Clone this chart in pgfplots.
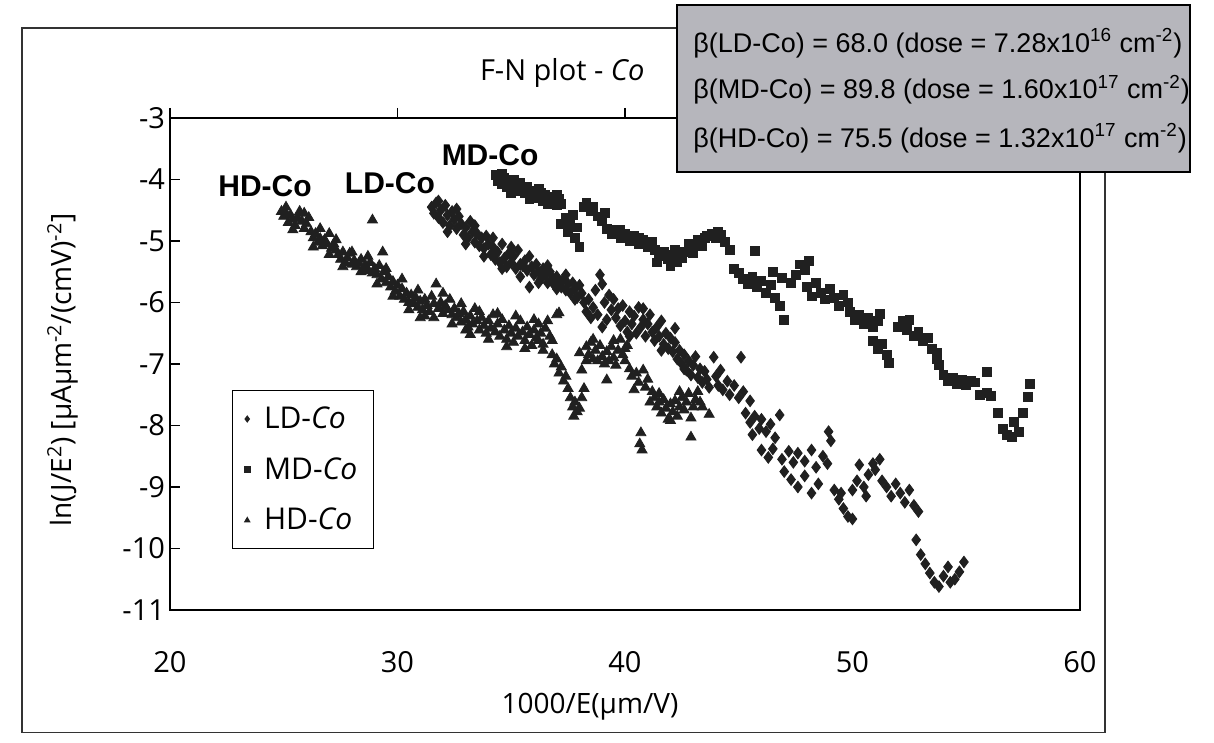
\documentclass[border=0pt]{standalone}
\usepackage{fontspec}
\setmainfont{Open Sans}
\newfontfamily\arialf{Liberation Sans}
\usepackage{pgfplots}
\pgfplotsset{compat=1.18}
\definecolor{markc}{HTML}{202020}
\definecolor{boxgray}{HTML}{B6B6BC}
\begin{document}
\begin{tikzpicture}
\begin{axis}[
  scale only axis, width=455pt, height=246pt,
  xmin=20, xmax=60, ymin=-11, ymax=-3,
  xtick={20,30,40,50,60}, ytick={-11,-10,-9,-8,-7,-6,-5,-4,-3},
  xtick pos=upper, xticklabel pos=lower, ytick pos=left,
  tick align=inside, major tick length=5pt,
  x tick style={yshift=5pt},
  xticklabel shift=17pt, yticklabel shift=-1pt,
  axis line style={line width=0.9pt},
  tick style={line width=0.8pt, black},
  /pgf/number format/assume math mode=true,
  ticklabel style={font=\fontsize{14.5}{17}\selectfont},
  clip=false,
  xlabel={1000/E(µm/V)},
  xlabel style={font=\fontsize{14}{16}\selectfont, at={(rel axis cs:0.4615,-0.197)}, anchor=center},
  ylabel={ln(J/E\textsuperscript{2}) [µAµm\textsuperscript{-2}/(cmV)\textsuperscript{-2}]},
  ylabel style={font=\fontsize{14}{16}\selectfont, at={(rel axis cs:-0.1176,0.488)}, anchor=center},
  title={F-N plot - \textit{Co}},
  title style={font=\fontsize{14.5}{17}\selectfont, at={(rel axis cs:0.431,1.067)}, anchor=center},
  legend style={at={(rel axis cs:0.068,0.447)}, anchor=north west, draw=black, line width=0.6pt,
    font=\fontsize{15}{17}\selectfont, row sep=9pt, inner xsep=6pt, inner ysep=6pt, cells={anchor=west},
    /tikz/every odd column/.append style={column sep=5pt}},
  legend image post style={mark size=1.4pt},
]
% LD-Co
\addplot[only marks, mark=diamond*, mark size=2.9pt, color=markc, fill=markc] coordinates {
(31.5,-4.45)(31.6,-4.55)(31.7,-4.38)(31.8,-4.62)(31.9,-4.50)(32.0,-4.70)(32.1,-4.42)(32.2,-4.58)(32.3,-4.75)(32.4,-4.52)(32.5,-4.65)(32.6,-4.80)(32.7,-4.60)
(32.8,-4.72)(32.9,-4.90)(33.0,-4.78)(33.1,-4.95)(33.2,-4.68)(33.3,-4.85)(33.4,-5.02)(33.5,-4.88)(33.6,-5.08)(33.7,-4.95)(33.8,-5.12)(33.9,-4.92)
(34.0,-5.05)(34.1,-5.22)(34.2,-5.10)(34.3,-5.30)(34.4,-5.18)(34.5,-5.35)(34.6,-5.05)(34.7,-5.28)(34.8,-5.42)(34.9,-5.20)(35.0,-5.35)(35.1,-5.25)(35.2,-5.45)(35.3,-5.15)(35.4,-5.38)
(35.5,-5.40)(35.6,-5.32)(35.7,-5.48)(35.8,-5.75)(35.9,-5.42)(36.0,-5.55)(36.1,-5.38)(36.2,-5.50)(36.3,-5.62)(36.4,-5.45)(36.5,-5.55)(36.6,-5.68)(36.7,-5.50)(36.8,-5.60)(36.9,-5.72)(37.0,-5.58)(37.1,-5.65)
(37.2,-5.75)(37.3,-5.62)(37.4,-5.80)(37.5,-5.70)(37.6,-5.85)(37.7,-5.68)(37.8,-5.78)(37.9,-5.92)(38.0,-5.72)(38.1,-5.85)(38.2,-6.00)
(38.3,-6.15)(38.4,-5.95)(38.5,-6.25)(38.6,-6.08)(38.7,-5.80)(38.8,-6.20)(38.9,-5.55)(39.0,-5.70)(39.1,-6.00)(39.2,-6.28)(39.3,-5.88)(39.4,-6.12)(39.5,-5.95)
(39.6,-6.25)(39.7,-6.10)(39.8,-6.38)(39.9,-6.05)(40.0,-6.30)(40.1,-6.48)(40.2,-6.15)(40.3,-6.35)(40.4,-6.22)(40.5,-6.50)(40.6,-6.08)(40.7,-6.40)(40.8,-6.28)(40.9,-6.55)(41.0,-6.35)(41.1,-6.20)(41.2,-6.48)(41.3,-6.62)(41.4,-6.40)(41.5,-6.55)(41.6,-6.30)(41.7,-6.68)(41.8,-6.50)(41.9,-6.75)(42.0,-6.58)
(42.1,-6.80)(42.2,-6.65)(42.3,-6.92)(42.4,-6.78)(42.5,-7.00)(42.6,-6.85)(42.7,-7.10)(42.8,-6.95)(42.9,-7.18)(43.0,-7.02)(43.1,-6.88)(43.2,-7.22)(43.3,-7.08)(43.4,-7.30)(43.5,-7.12)(43.6,-7.25)(43.7,-7.38)(43.9,-6.89)(44.0,-7.20)(44.1,-7.35)(44.2,-7.10)(45.1,-6.89)
(44.3,-7.42)(44.5,-7.28)(44.6,-7.50)(44.8,-7.35)(45.0,-7.55)(45.2,-7.45)(45.5,-7.60)
(45.3,-7.80)(45.5,-7.95)(45.7,-7.85)(45.9,-8.05)(46.0,-7.90)(46.2,-8.10)(46.4,-7.98)(46.6,-8.20)(46.8,-7.83)(45.6,-8.15)
(46.0,-8.40)(46.3,-8.52)(46.5,-8.38)(46.9,-8.55)(47.2,-8.42)(47.4,-8.60)(47.6,-8.45)(47.9,-8.58)(48.2,-8.40)(48.4,-8.68)(48.7,-8.50)(48.9,-8.62)(48.95,-8.10)(49.05,-8.25)
(47.0,-8.75)(47.3,-8.88)(47.6,-9.00)(47.9,-8.82)(48.2,-9.10)(48.5,-8.95)
(49.2,-9.05)(49.4,-9.20)(49.6,-9.35)(49.8,-9.48)(50.0,-9.52)(49.5,-9.10)
(50.0,-9.05)(50.2,-8.90)(50.3,-8.64)(50.5,-9.00)(50.7,-8.80)(50.9,-8.62)(51.0,-8.72)(51.2,-8.55)(51.3,-8.90)(50.6,-9.15)
(51.5,-9.00)(51.7,-9.15)(51.9,-8.95)(52.1,-9.10)(52.3,-9.25)(52.5,-9.05)(52.7,-9.30)(52.9,-9.40)
(52.8,-9.86)(53.0,-10.10)(53.2,-10.25)(53.4,-10.40)(53.6,-10.55)(53.8,-10.62)(54.0,-10.45)(54.2,-10.30)(54.3,-10.55)(54.5,-10.50)(54.7,-10.38)(54.9,-10.22)
(31.8,-4.35)(32.2,-4.85)(32.6,-4.48)(33.0,-5.05)(33.4,-4.75)(33.8,-5.25)(34.2,-4.95)(34.6,-5.45)(35.0,-5.10)(35.4,-5.58)(35.8,-5.25)(36.2,-5.68)(36.6,-5.40)(37.0,-5.78)(37.4,-5.55)(37.8,-5.95)(39.0,-6.40)(40.2,-6.55)(40.8,-6.10)(41.6,-6.78)(42.2,-6.42)(42.6,-7.08)
};
\addlegendentry{LD-\textit{Co}}
% MD-Co
\addplot[only marks, mark=square*, mark size=2.2pt, color=markc, fill=markc] coordinates {
(34.3,-3.92)(34.4,-4.02)(34.5,-3.95)(34.6,-4.08)(34.7,-3.98)(34.8,-4.12)(34.9,-4.05)(35.0,-4.15)(35.1,-4.00)(35.2,-4.10)(35.3,-4.18)(35.4,-4.05)
(35.5,-4.15)(35.6,-4.22)(35.7,-4.12)(35.8,-4.25)(35.9,-4.18)(36.0,-4.30)(36.1,-4.20)(36.2,-4.28)(36.3,-4.22)(36.4,-4.35)(36.5,-4.25)(36.6,-4.32)(36.7,-4.28)(36.8,-4.38)(36.9,-4.30)(37.0,-4.42)(37.1,-4.32)(37.2,-4.40)
(37.2,-4.72)(37.4,-4.62)(37.5,-4.85)(37.6,-4.70)(37.8,-4.95)(37.9,-4.78)(38.0,-5.10)(37.7,-4.58)
(38.2,-4.45)(38.3,-4.38)(38.5,-4.52)(38.6,-4.45)(38.8,-4.60)(39.0,-4.68)(39.1,-4.55)
(39.2,-4.80)(39.4,-4.88)(39.6,-4.82)(39.8,-4.95)(40.0,-4.88)(40.2,-5.00)(40.4,-4.92)(40.6,-5.05)(40.8,-4.98)(41.0,-5.10)(41.2,-5.02)
(41.3,-5.15)(41.5,-5.25)(41.7,-5.18)(41.9,-5.30)(42.1,-5.22)(42.3,-5.35)(42.0,-5.40)(42.5,-5.28)
(42.6,-5.18)(42.8,-5.05)(43.0,-5.12)(43.2,-4.98)(43.4,-5.08)(43.6,-4.92)(43.8,-4.88)(44.0,-4.95)(44.2,-4.90)(44.4,-5.02)(44.6,-5.15)(45.7,-5.16)
(44.8,-5.45)(45.0,-5.52)(45.2,-5.62)(45.4,-5.70)(45.6,-5.58)(45.8,-5.75)(46.0,-5.65)(46.2,-5.85)(46.4,-5.72)(46.6,-5.92)(46.8,-6.05)(47.0,-6.28)(46.5,-5.50)(46.9,-5.60)
(47.3,-5.68)(47.5,-5.55)(47.7,-5.38)(47.9,-5.48)(48.1,-5.32)
(48.0,-5.75)(48.2,-5.90)(48.4,-5.68)(48.6,-5.85)(48.8,-5.95)(49.0,-5.78)(49.2,-5.92)(49.4,-6.05)(49.6,-5.88)(49.8,-6.00)
(49.9,-6.15)(50.1,-6.28)(50.3,-6.20)(50.5,-6.35)(50.7,-6.25)(50.9,-6.40)(51.1,-6.30)(51.2,-6.18)
(50.9,-6.62)(51.1,-6.75)(51.3,-6.68)(51.5,-6.85)(51.6,-6.98)
(52.0,-6.40)(52.2,-6.30)(52.4,-6.45)(52.5,-6.28)(52.7,-6.55)(52.9,-6.48)(53.1,-6.62)(53.3,-6.58)(53.5,-6.75)(53.7,-6.82)
(53.7,-6.92)(53.8,-7.02)(54.0,-7.18)(54.2,-7.28)(54.4,-7.22)(54.6,-7.32)(54.8,-7.25)(55.0,-7.35)(55.2,-7.28)(55.4,-7.30)(55.9,-7.13)
(55.6,-7.50)(55.9,-7.47)(56.1,-7.52)(56.4,-7.80)(56.6,-8.05)(56.8,-8.15)(57.0,-8.18)(57.1,-7.94)(57.3,-8.10)(57.5,-7.80)(57.7,-7.54)(57.8,-7.33)
(34.6,-3.90)(35.0,-4.22)(35.4,-4.15)(35.8,-4.32)(36.2,-4.15)(36.6,-4.40)(37.0,-4.25)(39.8,-4.82)(40.6,-4.95)(41.4,-5.35)(42.2,-5.15)(43.0,-5.20)(43.5,-4.95)(44.1,-4.85)
};
\addlegendentry{MD-\textit{Co}}
% HD-Co
\addplot[only marks, mark=triangle*, mark size=2.9pt, color=markc, fill=markc] coordinates {
(24.9,-4.52)(25.0,-4.60)(25.1,-4.55)(25.2,-4.70)(25.3,-4.58)(25.4,-4.65)(25.5,-4.75)(25.6,-4.62)(25.7,-4.52)(25.8,-4.68)(25.9,-4.80)(26.0,-4.72)(26.1,-4.62)(26.2,-4.85)
(26.3,-4.95)(26.4,-4.88)(26.5,-5.02)(26.6,-4.96)(26.7,-5.08)(26.8,-4.98)(26.9,-5.05)(27.0,-4.88)(27.1,-5.12)(27.2,-5.05)(27.3,-5.15)
(27.4,-5.22)(27.5,-5.30)(27.6,-5.18)(27.7,-5.35)(27.8,-5.28)(27.9,-5.20)(28.0,-5.38)(28.1,-5.32)(28.2,-5.42)(28.3,-5.36)(28.4,-5.30)(28.5,-5.45)(28.6,-5.40)(28.7,-5.48)(28.8,-5.35)(28.9,-5.52)
(28.9,-4.66)(29.35,-5.18)
(29.0,-5.45)(29.1,-5.55)(29.2,-5.40)(29.3,-5.62)(29.4,-5.50)(29.5,-5.68)(29.6,-5.58)(29.7,-5.75)(29.8,-5.66)(29.9,-5.82)(30.0,-5.72)(30.1,-5.90)(30.2,-5.78)(30.3,-5.95)(30.4,-5.85)(30.5,-6.00)(30.6,-5.88)(30.7,-6.02)
(30.8,-5.92)(30.9,-6.08)(31.0,-5.98)(31.1,-6.12)(31.2,-5.95)(31.3,-6.05)(31.4,-6.15)(31.5,-5.90)(31.6,-6.02)(31.7,-5.70)(31.8,-6.10)(31.9,-6.00)(32.0,-6.18)(32.1,-6.05)(32.2,-6.12)(32.3,-5.95)(32.4,-6.20)
(32.5,-6.10)(32.6,-6.25)(32.7,-6.18)(32.8,-6.32)(32.9,-6.15)(33.0,-6.28)(33.1,-6.40)(33.2,-6.22)(33.3,-6.35)(33.4,-6.10)(33.5,-6.30)(33.6,-6.45)(33.7,-6.25)(33.8,-6.38)(33.9,-6.50)(34.0,-6.30)(34.1,-6.42)(34.2,-6.20)
(34.3,-6.48)(34.4,-6.35)(34.5,-6.55)(34.6,-6.28)(34.7,-6.45)(34.8,-6.60)(34.9,-6.38)(35.0,-6.50)(35.1,-6.65)(35.2,-6.42)(35.3,-6.55)(35.4,-6.30)(35.5,-6.48)(35.6,-6.62)(35.7,-6.40)(35.8,-6.52)(35.9,-6.70)(36.0,-6.45)(36.1,-6.58)(36.2,-6.35)(36.3,-6.50)(36.4,-6.68)(36.5,-6.42)(36.6,-6.30)(36.7,-6.55)(36.8,-6.62)(37.0,-6.20)(37.1,-6.17)
(36.8,-6.85)(36.9,-7.00)(37.0,-6.92)(37.1,-7.15)(37.2,-7.05)(37.3,-7.28)(37.4,-7.20)(37.5,-7.40)(37.6,-7.55)(37.7,-7.70)(37.8,-7.62)(37.9,-7.78)(38.0,-7.72)(37.75,-7.85)(38.1,-7.55)(38.0,-6.82)(38.1,-7.10)(38.2,-7.40)
(38.3,-6.72)(38.4,-6.85)(38.5,-6.65)(38.6,-6.92)(38.7,-6.78)(38.8,-6.95)(38.9,-6.70)(39.0,-6.88)(39.1,-7.00)(39.2,-6.80)(39.3,-6.95)(39.4,-6.72)(39.5,-6.90)(39.6,-7.02)(39.7,-6.78)(39.8,-6.60)(39.9,-6.85)(40.0,-6.95)(40.1,-6.70)(39.2,-7.26)
(40.2,-7.08)(40.3,-7.20)(40.4,-7.42)(40.5,-7.15)(40.6,-7.30)(40.8,-7.10)(40.9,-7.38)(41.0,-7.25)(41.2,-7.45)
(40.7,-8.12)(40.65,-8.30)(40.75,-8.40)
(41.3,-7.55)(41.4,-7.70)(41.5,-7.62)(41.6,-7.80)(41.7,-7.58)(41.8,-7.72)(41.9,-7.90)(42.0,-7.65)(42.1,-7.78)(42.2,-7.60)(42.3,-7.85)(42.4,-7.70)(42.5,-7.55)(42.6,-7.75)(42.7,-7.62)(42.8,-7.48)(42.9,-8.19)(43.0,-7.70)(43.1,-7.58)(43.2,-7.45)(43.3,-7.62)(43.7,-7.82)
(25.1,-4.45)(25.4,-4.82)(25.9,-4.55)(26.3,-5.10)(26.6,-4.80)(27.0,-5.22)(27.3,-4.98)(27.6,-5.42)(28.0,-5.18)(28.4,-5.50)(28.7,-5.25)(29.1,-5.70)(29.5,-5.45)(29.8,-5.90)(30.2,-5.62)(30.5,-6.12)(30.9,-5.80)(31.2,-6.22)(31.6,-6.25)(32.0,-5.85)(32.4,-6.35)(32.8,-6.02)(33.2,-6.52)(33.6,-6.15)(34.0,-6.60)(34.4,-6.18)(34.8,-6.72)(35.2,-6.22)(35.6,-6.75)(36.0,-6.28)(36.4,-6.78)(36.2,-6.62)(33.0,-6.45)(31.0,-6.25)
(41.5,-7.48)(42.0,-7.92)(42.4,-7.45)(42.9,-7.88)(43.4,-7.70)(41.1,-7.62)(39.5,-6.62)(38.6,-6.60)(40.0,-6.75)(38.3,-6.95)
};
\addlegendentry{HD-\textit{Co}}
% series labels
\node[font=\arialf\bfseries\fontsize{15}{17}\selectfont] at (axis cs:24.18,-4.106) {HD-Co};
\node[font=\arialf\bfseries\fontsize{15}{17}\selectfont] at (axis cs:29.67,-4.057) {LD-Co};
\node[font=\arialf\bfseries\fontsize{15}{17}\selectfont] at (axis cs:34.07,-3.60) {MD-Co};
% outer frame
\draw[line width=0.7pt, black!80] (rel axis cs:-0.1626,-0.249) rectangle (rel axis cs:1.0275,1.183);
\coordinate (boxSW) at (rel axis cs:0.557,0.890);
\coordinate (boxNE) at (rel axis cs:1.1209,1.2297);
\coordinate (t1) at (rel axis cs:0.5747,1.152);
\coordinate (t2) at (rel axis cs:0.5747,1.057);
\coordinate (t3) at (rel axis cs:0.5747,0.959);
\coordinate (bbSW) at (rel axis cs:-0.1868,-0.2703);
\coordinate (bbNE) at (rel axis cs:1.1473,1.2398);
\end{axis}
\draw[line width=1pt, black, fill=boxgray] (boxSW) rectangle (boxNE);
\begin{scope}[every node/.style={anchor=west, inner sep=0pt, font=\arialf\fontsize{13.5}{16}\selectfont}]
\node at (t1) {β(LD-Co) = 68.0 (dose = 7.28x10\textsuperscript{16} cm\textsuperscript{-2})};
\node at (t2) {β(MD-Co) = 89.8 (dose = 1.60x10\textsuperscript{17} cm\textsuperscript{-2})};
\node at (t3) {β(HD-Co) = 75.5 (dose = 1.32x10\textsuperscript{17} cm\textsuperscript{-2})};
\end{scope}
\path (bbSW) rectangle (bbNE);
\end{tikzpicture}
\end{document}
